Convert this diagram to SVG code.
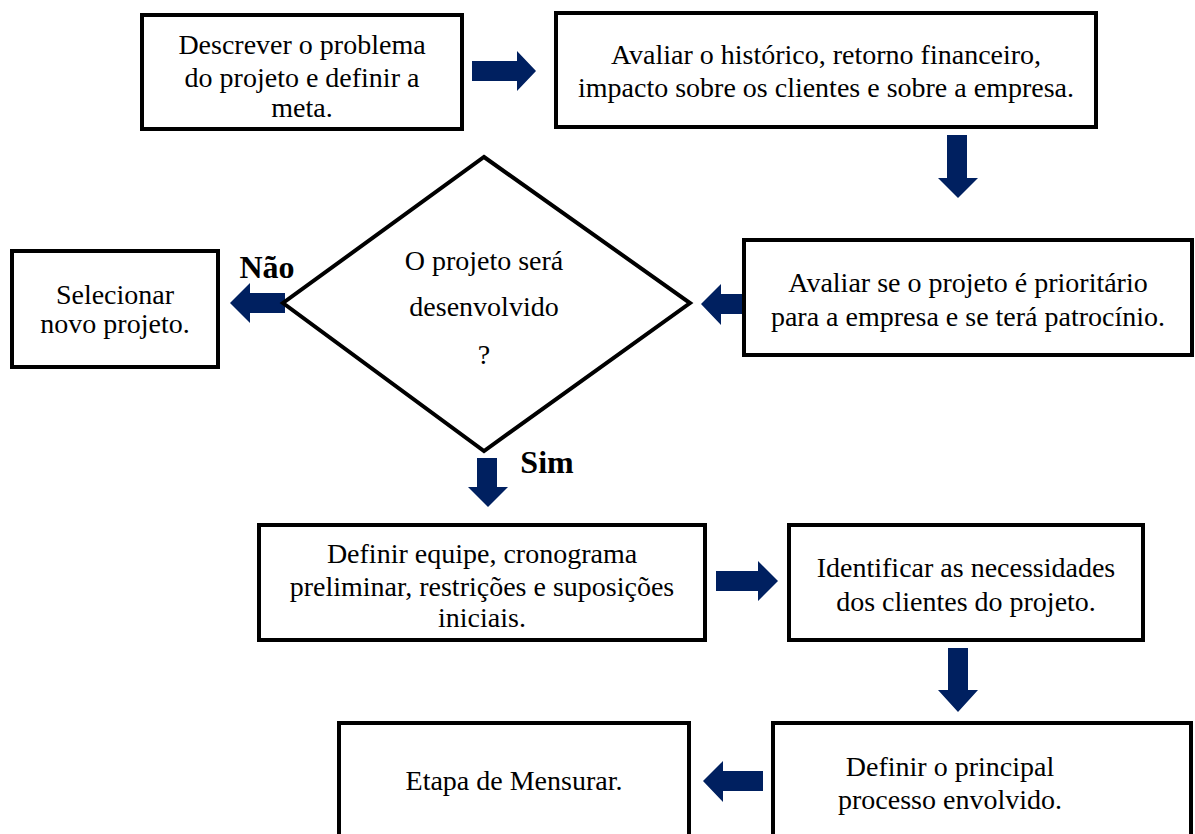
<svg xmlns="http://www.w3.org/2000/svg" width="1195" height="834" viewBox="0 0 1195 834">
  <style>
    .box { fill: #ffffff; stroke: #000000; stroke-width: 4; }
    .lbl { font-family: "Liberation Serif", "Times New Roman", serif; font-size: 28px; fill: #000000; text-anchor: middle; }
    .bold { font-weight: bold; font-size: 32px; }
    .arrow { fill: #002060; }
  </style>
  <rect width="1195" height="834" fill="#ffffff"/>

  <!-- block arrows -->
  <g id="connectors">
    <polygon class="arrow" points="472,61 517,61 517,51 536,71 517,91 517,81 472,81"/>
    <polygon class="arrow" points="947,135 967,135 967,178 978,178 958,198 938,178 947,178"/>
    <polygon class="arrow" points="742,294 721,294 721,284 701,304 721,325 721,314 742,314"/>
    <polygon class="arrow" points="285,293 250,293 250,283 230,303 250,323 250,313 285,313"/>
    <polygon class="arrow" points="477,458 497,458 497,487 508,487 488,507 468,487 477,487"/>
    <polygon class="arrow" points="716,571 758,571 758,561 778,581 758,601 758,591 716,591"/>
    <polygon class="arrow" points="948,648 968,648 968,690 978,690 958,712 938,690 948,690"/>
    <polygon class="arrow" points="763,771 723,771 723,761 703,781 723,802 723,791 763,791"/>
  </g>

  <g id="n1">
    <rect class="box" x="142" y="15" width="320" height="114"/>
    <text class="lbl" x="302" y="54">Descrever o problema</text>
    <text class="lbl" x="302" y="87">do projeto e definir a</text>
    <text class="lbl" x="302" y="117">meta.</text>
  </g>

  <g id="n2">
    <rect class="box" x="556" y="13" width="540" height="114"/>
    <text class="lbl" x="826" y="64">Avaliar o histórico, retorno financeiro,</text>
    <text class="lbl" x="826" y="97">impacto sobre os clientes e sobre a empresa.</text>
  </g>

  <g id="n3">
    <rect class="box" x="744" y="240" width="448" height="115"/>
    <text class="lbl" x="968" y="292">Avaliar se o projeto é prioritário</text>
    <text class="lbl" x="968" y="326">para a empresa e se terá patrocínio.</text>
  </g>

  <g id="n4">
    <polygon class="box" points="484,157 690,303 484,451 283,303"/>
    <text class="lbl" x="484" y="270">O projeto será</text>
    <text class="lbl" x="484" y="316">desenvolvido</text>
    <text class="lbl" x="484" y="364">?</text>
  </g>

  <g id="n5">
    <rect class="box" x="12" y="251" width="206" height="116"/>
    <text class="lbl" x="115" y="304">Selecionar</text>
    <text class="lbl" x="115" y="333">novo projeto.</text>
  </g>

  <text class="lbl bold" x="267" y="278">Não</text>
  <text class="lbl bold" x="547" y="473">Sim</text>

  <g id="n6">
    <rect class="box" x="259" y="525" width="446" height="115"/>
    <text class="lbl" x="482" y="563">Definir equipe, cronograma</text>
    <text class="lbl" x="482" y="596">preliminar, restrições e suposições</text>
    <text class="lbl" x="482" y="627">iniciais.</text>
  </g>

  <g id="n7">
    <rect class="box" x="789" y="525" width="354" height="115"/>
    <text class="lbl" x="966" y="577">Identificar as necessidades</text>
    <text class="lbl" x="966" y="611">dos clientes do projeto.</text>
  </g>

  <g id="n8">
    <rect class="box" x="773" y="723" width="418" height="130"/>
    <text class="lbl" x="950" y="776">Definir o principal</text>
    <text class="lbl" x="950" y="809">processo envolvido.</text>
  </g>

  <g id="n9">
    <rect class="box" x="339" y="723" width="350" height="130"/>
    <text class="lbl" x="514" y="790">Etapa de Mensurar.</text>
  </g>
</svg>
